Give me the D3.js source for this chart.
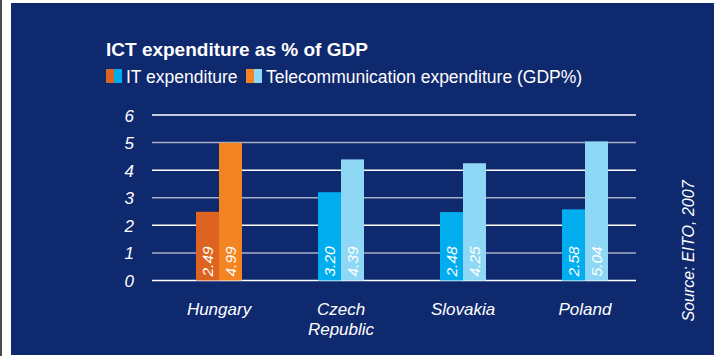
<!DOCTYPE html>
<html>
<head>
<meta charset="utf-8">
<script src="https://cdn.jsdelivr.net/npm/d3@7"></script>
<style>
  body { margin: 0; background: #ffffff; }
  text { font-family: "Liberation Sans", Arial, sans-serif; }
</style>
</head>
<body>
<div id="chart"></div>
<script>
// Chart data
const countries = ["Hungary", "Czech Republic", "Slovakia", "Poland"];
const itExpenditure = [2.49, 3.20, 2.48, 2.58];
const telecomExpenditure = [4.99, 4.39, 4.25, 5.04];
const yTicks = [0, 1, 2, 3, 4, 5, 6];
const seriesNames = ["IT expenditure", "Telecommunication expenditure (GDP%)"];

const width = 714, height = 356;
const navy = "#0f296f";

const svg = d3.select("#chart").append("svg")
    .attr("width", width)
    .attr("height", height);

// frame: thin dark edge, white strip, navy panel
svg.append("rect").attr("x", 0).attr("y", 0).attr("width", 2).attr("height", height).attr("fill", "#4a4a4a");
svg.append("rect").attr("x", 11).attr("y", 3).attr("width", width - 11).attr("height", 352).attr("fill", navy);

// scales
const x = d3.scaleBand()
    .domain(countries)
    .range([158, 646]);
const barW = 23;
const y = d3.scaleLinear()
    .domain([0, 6])
    .range([280.5, 115]);

// gridlines, alternating white / grey
const grid = svg.append("g");
grid.selectAll("line")
    .data(yTicks).enter()
    .append("line")
    .attr("x1", 152)
    .attr("x2", 636)
    .attr("y1", d => y(d))
    .attr("y2", d => y(d))
    .attr("stroke", d => d % 2 === 0 ? "#ffffff" : "#a9b0c6")
    .attr("stroke-width", 1.5);

// y axis labels
svg.append("g").selectAll("text")
    .data(yTicks).enter()
    .append("text")
    .attr("x", 134)
    .attr("y", d => y(d) + 6.5)
    .attr("text-anchor", "end")
    .attr("fill", "#ffffff")
    .attr("font-style", "italic")
    .attr("font-size", 17)
    .text(d => d);

// bars
const itColor = (d, i) => i === 0 ? "#dc6420" : "#00aeef";
const telColor = (d, i) => i === 0 ? "#f28522" : "#8fd8f5";

const groups = svg.append("g").selectAll("g")
    .data(countries).enter()
    .append("g")
    .attr("transform", d => "translate(" + (x(d) + x.bandwidth() / 2) + ",0)");

groups.append("rect")
    .attr("x", -barW)
    .attr("width", barW)
    .attr("y", (d, i) => y(itExpenditure[i]))
    .attr("height", (d, i) => y(0) - y(itExpenditure[i]))
    .attr("fill", itColor);

groups.append("rect")
    .attr("x", 0)
    .attr("width", barW)
    .attr("y", (d, i) => y(telecomExpenditure[i]))
    .attr("height", (d, i) => y(0) - y(telecomExpenditure[i]))
    .attr("fill", telColor);

// value labels inside bars, rotated
function valueLabel(vals, cx) {
    groups.append("text")
        .attr("transform", "translate(" + cx + "," + (y(0) - 4) + ") rotate(-90)")
        .attr("fill", "#ffffff")
        .attr("font-style", "italic")
        .attr("font-size", 15.5)
        .text((d, i) => vals[i].toFixed(2));
}
valueLabel(itExpenditure, -barW / 2 + 5.5);
valueLabel(telecomExpenditure, barW / 2 + 5.5);

// category labels
groups.append("text")
    .attr("text-anchor", "middle")
    .attr("fill", "#ffffff")
    .attr("font-style", "italic")
    .attr("font-size", 17)
    .attr("y", 315)
    .each(function (d) {
        const words = d.split(" ");
        const t = d3.select(this);
        words.forEach((w, k) => {
            t.append("tspan").attr("x", 0).attr("dy", k === 0 ? 0 : 20).text(w);
        });
    });

// title
svg.append("text")
    .attr("x", 106)
    .attr("y", 56)
    .attr("fill", "#ffffff")
    .attr("font-weight", "bold")
    .attr("font-size", 19)
    .text("ICT expenditure as % of GDP");

// legend
const legendX = [106, 246];
const legendColors = [["#dc6420", "#00aeef"], ["#f28522", "#8fd8f5"]];
seriesNames.forEach((name, i) => {
    const lg = svg.append("g").attr("transform", "translate(" + legendX[i] + ",69)");
    lg.append("rect").attr("x", 0).attr("y", 0).attr("width", 8).attr("height", 14).attr("fill", legendColors[i][0]);
    lg.append("rect").attr("x", 8).attr("y", 0).attr("width", 8).attr("height", 14).attr("fill", legendColors[i][1]);
    lg.append("text")
        .attr("x", 20)
        .attr("y", 13.5)
        .attr("fill", "#ffffff")
        .attr("font-size", 17.5)
        .text(name);
});

// source note
svg.append("text")
    .attr("transform", "translate(694,251) rotate(-90)")
    .attr("text-anchor", "middle")
    .attr("fill", "#ffffff")
    .attr("font-style", "italic")
    .attr("font-size", 16)
    .text("Source: EITO, 2007");
</script>
</body>
</html>
